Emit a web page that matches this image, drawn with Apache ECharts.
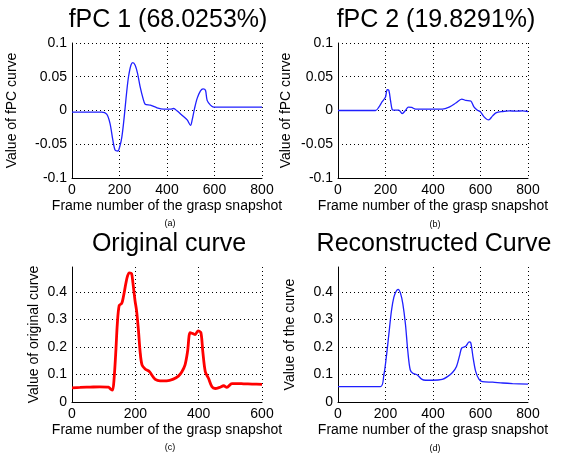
<!DOCTYPE html>
<html>
<head>
<meta charset="utf-8">
<script src="https://cdn.jsdelivr.net/npm/echarts@6/dist/echarts.min.js"></script>
<style>
  html, body { margin: 0; padding: 0; background: #fff; }
  #chart { width: 565px; height: 458px; }
</style>
</head>
<body>
<div id="chart"></div>
<script>
const fpc1X = [0, 125, 146, 160, 172, 182, 193, 203, 210, 217, 224, 231, 238, 248, 256, 266, 276, 287, 299, 308, 330, 358, 386, 414, 428, 442, 463, 485, 499, 506, 516, 527, 541, 552, 562, 569, 583, 597, 800];
const fpc1Y = [-0.0025, -0.0025, -0.0054, -0.019, -0.044, -0.059, -0.06, -0.051, -0.039, -0.019, 0.0054, 0.03, 0.05, 0.067, 0.071, 0.067, 0.055, 0.035, 0.018, 0.0094, 0.0079, 0.004, 0.002, 0.002, 0.003, -0.0005, -0.007, -0.014, -0.022, -0.014, 0.003, 0.018, 0.029, 0.032, 0.03, 0.015, 0.008, 0.005, 0.005];

const fpc2X = [0, 158, 172, 186, 200, 207, 214, 221, 228, 235, 256, 270, 285, 296, 310, 327, 355, 411, 439, 468, 496, 521, 538, 559, 573, 587, 600, 615, 634, 651, 665, 693, 721, 749, 777, 800];
const fpc2Y = [0, 0, 0.005, 0.013, 0.02, 0.031, 0.03, 0.015, 0.0015, 0.0005, 0.0005, -0.0045, 0.0005, 0.005, 0.0045, 0.002, 0.002, 0.002, 0.002, 0.005, 0.011, 0.017, 0.015, 0.014, 0.005, 0.0005, -0.002, -0.0094, -0.014, -0.008, -0.0035, -0.0015, -0.0005, -0.001, -0.0005, -0.0015];

const origX = [0, 25, 57, 88, 115, 122, 128, 133, 139, 143, 149, 157, 162, 170, 175, 181, 188, 192, 199, 204, 210, 215, 221, 231, 245, 252, 263, 278, 299, 320, 336, 347, 357, 365, 373, 382, 389, 398, 407, 413, 421, 431, 442, 452, 466, 479, 489, 505, 521, 542, 569, 600];
const origY = [0.0515, 0.053, 0.054, 0.055, 0.054, 0.047, 0.043, 0.086, 0.196, 0.282, 0.35, 0.358, 0.38, 0.43, 0.456, 0.469, 0.466, 0.436, 0.368, 0.331, 0.258, 0.184, 0.135, 0.12, 0.11, 0.098, 0.082, 0.077, 0.077, 0.083, 0.094, 0.11, 0.135, 0.184, 0.252, 0.248, 0.245, 0.258, 0.252, 0.184, 0.11, 0.086, 0.055, 0.049, 0.053, 0.059, 0.053, 0.067, 0.067, 0.066, 0.065, 0.064];

const reconX = [0, 179, 193, 203, 214, 225, 235, 245, 253, 263, 273, 284, 294, 304, 315, 334, 352, 369, 397, 439, 461, 482, 499, 513, 521, 538, 552, 559, 569, 580, 594, 608, 651, 693, 735, 800];
const reconY = [0.056, 0.056, 0.098, 0.16, 0.245, 0.331, 0.38, 0.402, 0.409, 0.395, 0.356, 0.282, 0.184, 0.117, 0.104, 0.098, 0.083, 0.079, 0.079, 0.082, 0.092, 0.107, 0.129, 0.172, 0.196, 0.202, 0.218, 0.215, 0.16, 0.11, 0.082, 0.074, 0.072, 0.069, 0.067, 0.065];

const titles = ["fPC 1 (68.0253%)", "fPC 2 (19.8291%)", "Original curve", "Reconstructed Curve"];
const yNames = ["Value of fPC curve", "Value of fPC curve", "Value of original curve", "Value of the curve"];
const xName = "Frame number of the grasp snapshot";
const subLabels = ["(a)", "(b)", "(c)", "(d)"];

const zip = (xs, ys) => xs.map((x, i) => [x, ys[i]]);

const FONT = "Liberation Sans, Arial, sans-serif";
const grids = [
  { left: 72, right: 303, top: 43, bottom: 280 },
  { left: 338, right: 37, top: 43, bottom: 280 },
  { left: 72, right: 303, top: 267, bottom: 56 },
  { left: 338, right: 37, top: 267, bottom: 56 },
];
const xMax = [800, 800, 600, 800];
const yRange = [
  { min: -0.1, max: 0.1, interval: 0.05 },
  { min: -0.1, max: 0.1, interval: 0.05 },
  { min: 0, max: 0.49, interval: 0.1 },
  { min: 0, max: 0.49, interval: 0.1 },
];
const yNameGap = [53, 45, 31, 41];
const titlePos = [[168, 20], [436, 20], [169, 244], [434, 244]];
const subPos = [[170, 224], [435, 225], [170, 448], [435, 449]];

const dotted = { color: "#000", width: 1, type: [1, 3] };

const chart = echarts.init(document.getElementById("chart"));
const option = {
  animation: false,
  grid: grids,
  xAxis: grids.map((g, i) => ({
    type: "value",
    gridIndex: i,
    min: 0,
    max: xMax[i],
    interval: 200,
    name: xName,
    nameLocation: "middle",
    nameGap: 21,
    nameTextStyle: { fontFamily: FONT, fontSize: 14, color: "#000" },
    axisLine: { onZero: false, lineStyle: { color: "#000", width: 1 } },
    axisTick: { show: false },
    axisLabel: { fontFamily: FONT, fontSize: 14, color: "#000", margin: 5 },
    splitLine: { show: true, lineStyle: dotted },
  })),
  yAxis: grids.map((g, i) => ({
    type: "value",
    gridIndex: i,
    min: yRange[i].min,
    max: yRange[i].max,
    interval: yRange[i].interval,
    name: yNames[i],
    nameLocation: "middle",
    nameGap: yNameGap[i],
    nameTextStyle: { fontFamily: FONT, fontSize: 14, color: "#000" },
    axisLine: { show: true, onZero: false, lineStyle: { color: "#000", width: 1 } },
    axisTick: { show: false },
    axisLabel: { fontFamily: FONT, fontSize: 14, color: "#000", margin: 5, showMaxLabel: i < 2 },
    splitLine: {
      show: true,
      lineStyle: i < 2 ? dotted : { ...dotted, color: ["#000", "#000", "#000", "#000", "#000", "rgba(0,0,0,0)"] },
    },
  })),
  series: [
    { data: zip(fpc1X, fpc1Y), color: "#1f1fff", width: 1.3 },
    { data: zip(fpc2X, fpc2Y), color: "#1f1fff", width: 1.3 },
    { data: zip(origX, origY), color: "#ff0000", width: 2.8 },
    { data: zip(reconX, reconY), color: "#1f1fff", width: 1.3 },
  ].map((s, i) => ({
    type: "line",
    xAxisIndex: i,
    yAxisIndex: i,
    data: s.data,
    showSymbol: false,
    smooth: 0.3,
    lineStyle: { color: s.color, width: s.width },
  })),
  graphic: [
    ...titles.map((t, i) => ({
      type: "text",
      x: titlePos[i][0],
      y: titlePos[i][1],
      style: {
        text: t,
        font: `25px ${FONT}`,
        fill: "#000",
        textAlign: "center",
        textVerticalAlign: "middle",
      },
    })),
    ...subLabels.map((t, i) => ({
      type: "text",
      x: subPos[i][0],
      y: subPos[i][1],
      style: {
        text: t,
        font: `9px ${FONT}`,
        fill: "#000",
        textAlign: "center",
        textVerticalAlign: "middle",
      },
    })),
  ],
};
chart.setOption(option);
</script>
</body>
</html>
